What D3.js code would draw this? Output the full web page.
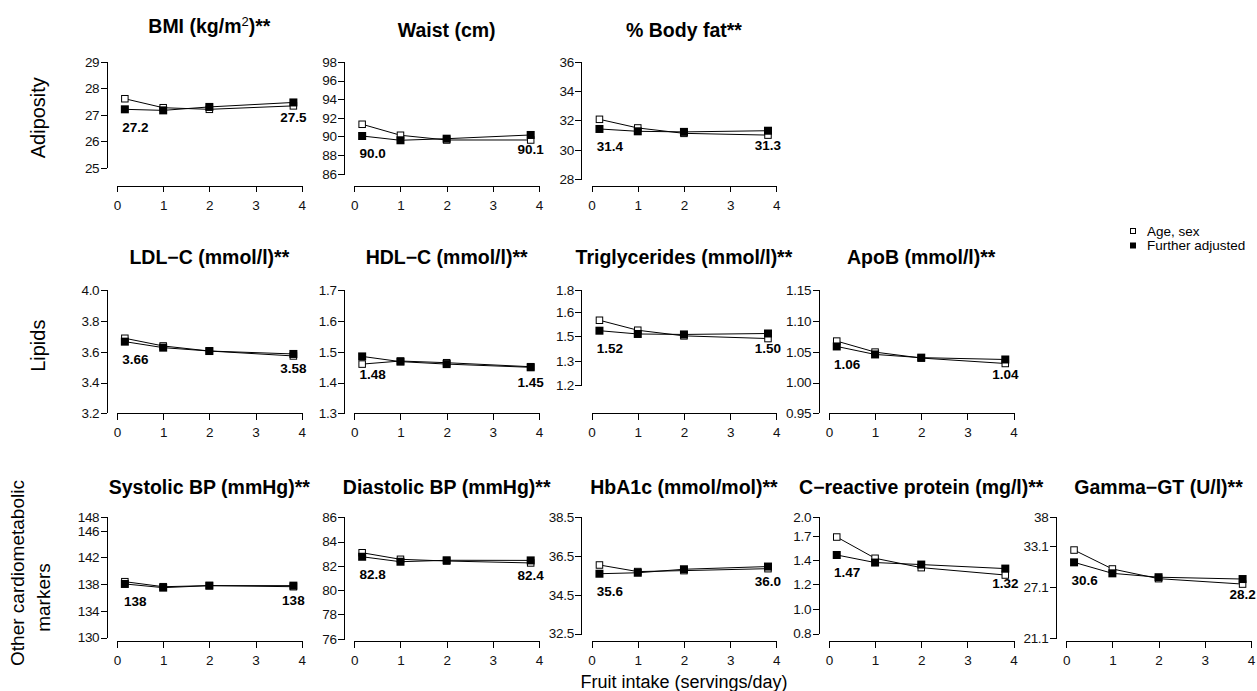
<!DOCTYPE html>
<html>
<head>
<meta charset="utf-8">
<script src="https://cdn.jsdelivr.net/npm/d3@7"></script>
<style>
  body { margin: 0; background: #fff; }
  svg { display: block; font-family: "Liberation Sans", Arial, Helvetica, sans-serif; }
</style>
</head>
<body>
<div id="chart"></div>
<script>
// fruit intake (servings/day) at the four quartile points
const fruitIntake = [0.17, 1.0, 2.0, 3.82];
const xTicks = [0, 1, 2, 3, 4];
const xTitle = "Fruit intake (servings/day)";
const seriesNames = ["Age, sex", "Further adjusted"];
const rowNames = [["Adiposity"], ["Lipids"], ["Other cardiometabolic", "markers"]];
const panelsPerRow = [3, 4, 5];

// titles; an array means [text, superscript, text]
const panelTitles = [
  ["BMI (kg/m", "2", ")**"], "Waist (cm)", "% Body fat**",
  "LDL\u2212C (mmol/l)**", "HDL\u2212C (mmol/l)**", "Triglycerides (mmol/l)**", "ApoB (mmol/l)**",
  "Systolic BP (mmHg)**", "Diastolic BP (mmHg)**", "HbA1c (mmol/mol)**",
  "C\u2212reactive protein (mg/l)**", "Gamma\u2212GT (U/l)**"
];

const ageSexValues = [
  [27.61, 27.27, 27.21, 27.34],
  [91.31, 90.13, 89.62, 89.62],
  [32.08, 31.49, 31.12, 31.0],
  [3.688, 3.638, 3.605, 3.573],
  [1.460, 1.470, 1.4645, 1.4515],
  [1.584, 1.518, 1.482, 1.465],
  [1.0674, 1.0495, 1.0398, 1.031],
  [138.37, 137.62, 137.78, 137.62],
  [83.08, 82.54, 82.40, 82.24],
  [36.04, 35.70, 35.75, 35.85],
  [1.712, 1.448, 1.345, 1.269],
  [32.41, 29.56, 28.2, 27.47]
];

const adjustedValues = [
  [27.21, 27.17, 27.30, 27.47],
  [90.05, 89.59, 89.76, 90.16],
  [31.42, 31.26, 31.22, 31.30],
  [3.666, 3.627, 3.605, 3.586],
  [1.485, 1.468, 1.460, 1.4496],
  [1.515, 1.494, 1.491, 1.497],
  [1.0587, 1.0457, 1.0405, 1.0375],
  [138.03, 137.48, 137.78, 137.78],
  [82.75, 82.34, 82.46, 82.45],
  [35.59, 35.64, 35.82, 35.96],
  [1.486, 1.40, 1.378, 1.335],
  [30.53, 28.94, 28.4, 28.15]
];

const firstLabels = ["27.2", "90.0", "31.4", "3.66", "1.48", "1.52", "1.06", "138", "82.8", "35.6", "1.47", "30.6"];
const lastLabels = ["27.5", "90.1", "31.3", "3.58", "1.45", "1.50", "1.04", "138", "82.4", "36.0", "1.32", "28.2"];

const yTicks = [
  [25, 26, 27, 28, 29],
  [86, 88, 90, 92, 94, 96, 98],
  [28, 30, 32, 34, 36],
  [3.2, 3.4, 3.6, 3.8, 4.0],
  [1.3, 1.4, 1.5, 1.6, 1.7],
  [1.2, 1.33, 1.48, 1.64, 1.8],
  [0.95, 1.00, 1.05, 1.10, 1.15],
  [130, 134, 138, 142, 146, 148],
  [76, 78, 80, 82, 84, 86],
  [32.5, 34.5, 36.5, 38.5],
  [0.8, 0.97, 1.18, 1.43, 1.73, 2.0],
  [21.1, 27.1, 33.1, 38]
];

const yTickLabels = [
  ["25", "26", "27", "28", "29"],
  ["86", "88", "90", "92", "94", "96", "98"],
  ["28", "30", "32", "34", "36"],
  ["3.2", "3.4", "3.6", "3.8", "4.0"],
  ["1.3", "1.4", "1.5", "1.6", "1.7"],
  ["1.2", "1.3", "1.5", "1.6", "1.8"],
  ["0.95", "1.00", "1.05", "1.10", "1.15"],
  ["130", "134", "138", "142", "146", "148"],
  ["76", "78", "80", "82", "84", "86"],
  ["32.5", "34.5", "36.5", "38.5"],
  ["0.8", "1.0", "1.2", "1.4", "1.7", "2.0"],
  ["21.1", "27.1", "33.1", "38"]
];

// value at the x axis level, value at the top tick
const yDomains = [
  [24.32, 29], [84.71, 98], [27.54, 36],
  [3.2, 4.0], [1.3, 1.7], [1.065, 1.8], [0.95, 1.15],
  [129.5, 148], [75.81, 86], [32.12, 38.5], [0.7545, 2.0], [20.83, 38]
];
const logScale = [false, false, false, false, false, true, false, false, false, false, true, true];

// layout
const width = 1257, height = 691;
const colStart = 117, colStep = 237.3, plotW = 184.7, yAxisGap = 9.7;
const rowTop = [62, 290.3, 517.3];
const rowBottom = [185.7, 413.3, 641];
const titleBase = [36.5, 264, 493.5];
const tickLen = 6.5;

const svg = d3.select("#chart").append("svg")
  .attr("width", width)
  .attr("height", height);

const x = d3.scaleLinear().domain([0, 4]);

let idx = 0;
panelsPerRow.forEach((count, row) => {
  for (let col = 0; col < count; col++, idx++) {
    const i = idx;
    const x0 = colStart + col * colStep;
    const xs = x.copy().range([x0, x0 + plotW]);
    const ys = (logScale[i] ? d3.scaleLog() : d3.scaleLinear())
      .domain(yDomains[i])
      .range([rowBottom[row], rowTop[row]]);
    const g = svg.append("g");
    const axisX = x0 - yAxisGap;

    // y axis, line only between first and last tick
    const yAxis = g.append("g")
      .attr("transform", `translate(${axisX},0)`)
      .call(d3.axisLeft(ys)
        .tickValues(yTicks[i])
        .tickFormat((d, k) => yTickLabels[i][k])
        .tickSize(tickLen)
        .tickPadding(1.5));
    yAxis.select(".domain").remove();
    const yExt = d3.extent(yTicks[i]);
    yAxis.append("line")
      .attr("y1", ys(yExt[0])).attr("y2", ys(yExt[1]))
      .attr("stroke", "#000");
    yAxis.selectAll("line").attr("stroke", "#000").attr("shape-rendering", "crispEdges");
    yAxis.selectAll("text")
      .attr("fill", "#111")
      .style("font-size", "13.5px")
      .style("letter-spacing", "-0.3px");

    // x axis
    const xAxis = g.append("g")
      .attr("transform", `translate(0,${rowBottom[row]})`)
      .call(d3.axisBottom(xs)
        .tickValues(xTicks)
        .tickFormat(d3.format("d"))
        .tickSize(tickLen)
        .tickSizeOuter(0)
        .tickPadding(8));
    xAxis.select(".domain").attr("stroke", "#000").attr("shape-rendering", "crispEdges");
    xAxis.selectAll("line").attr("stroke", "#000").attr("shape-rendering", "crispEdges");
    xAxis.selectAll("text")
      .attr("fill", "#111")
      .style("font-size", "13.5px");

    // title
    const t = g.append("text")
      .attr("x", x0 + plotW / 2)
      .attr("text-anchor", "middle")
      .attr("font-weight", "bold")
      .style("font-size", "19.5px");
    if (Array.isArray(panelTitles[i])) {
      t.attr("y", titleBase[row] - 4);
      t.append("tspan").text(panelTitles[i][0]);
      t.append("tspan").attr("dy", -7).style("font-size", "13px").attr("font-weight", "normal").text(panelTitles[i][1]);
      t.append("tspan").attr("dy", 7).text(panelTitles[i][2]);
    } else {
      t.attr("y", titleBase[row]).text(panelTitles[i]);
    }

    // series: age-sex first, further adjusted drawn on top
    const line = d3.line().x((d, k) => xs(fruitIntake[k])).y(d => ys(d));
    const drawSeries = (vals, filled) => {
      g.append("path")
        .attr("d", line(vals))
        .attr("fill", "none")
        .attr("stroke", "#000")
        .attr("stroke-width", 1);
      const s = filled ? 8 : 6.5;
      g.selectAll(null)
        .data(vals)
        .join("rect")
        .attr("x", (d, k) => xs(fruitIntake[k]) - s / 2)
        .attr("y", d => ys(d) - s / 2)
        .attr("width", s)
        .attr("height", s)
        .attr("fill", filled ? "#000" : "#fff")
        .attr("stroke", "#000")
        .attr("stroke-width", filled ? 0 : 1);
    };
    drawSeries(ageSexValues[i], false);
    drawSeries(adjustedValues[i], true);

    // value labels on the adjusted series
    const adj = adjustedValues[i];
    g.append("text")
      .attr("x", xs(fruitIntake[0]) + 10.5)
      .attr("y", ys(adj[0]) + 22.5)
      .attr("text-anchor", "middle")
      .attr("font-weight", "bold")
      .style("font-size", "13.5px")
      .text(firstLabels[i]);
    g.append("text")
      .attr("x", xs(fruitIntake[3]))
      .attr("y", ys(adj[3]) + 19.5)
      .attr("text-anchor", "middle")
      .attr("font-weight", "bold")
      .style("font-size", "13.5px")
      .text(lastLabels[i]);
  }
});

// row labels
const rowLabelPos = [
  [[37.7, 117.7]],
  [[38.3, 345.7]],
  [[17.5, 573], [43, 597.5]]
];
rowNames.forEach((lines, r) => {
  lines.forEach((txt, k) => {
    const p = rowLabelPos[r][k];
    svg.append("text")
      .attr("transform", `translate(${p[0]},${p[1]}) rotate(-90)`)
      .attr("text-anchor", "middle")
      .attr("dominant-baseline", "central")
      .style("font-size", r === 2 ? "19px" : "20px")
      .text(txt);
  });
});

// x axis title under the middle panel of the bottom row
svg.append("text")
  .attr("x", colStart + 2 * colStep + plotW / 2)
  .attr("y", 687.5)
  .attr("text-anchor", "middle")
  .style("font-size", "18px")
  .text(xTitle);

// legend
const legend = svg.append("g").attr("transform", "translate(1133,0)");
const legendY = [231, 245.5];
seriesNames.forEach((name, k) => {
  const s = k === 0 ? 5 : 6;
  legend.append("rect")
    .attr("x", -s / 2).attr("y", legendY[k] - s / 2)
    .attr("width", s).attr("height", s)
    .attr("fill", k === 0 ? "#fff" : "#000")
    .attr("stroke", "#000")
    .attr("stroke-width", k === 0 ? 1 : 0);
  legend.append("text")
    .attr("x", 14)
    .attr("y", legendY[k] + 4.5)
    .style("font-size", "13.5px")
    .text(name);
});
</script>
</body>
</html>
